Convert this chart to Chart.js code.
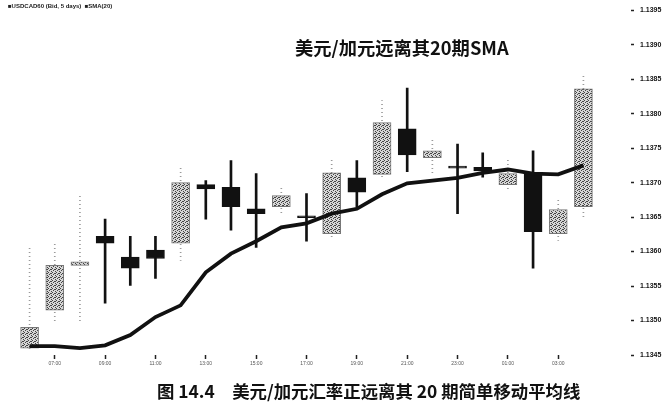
<!DOCTYPE html>
<html><head><meta charset="utf-8">
<script src="https://cdn.jsdelivr.net/npm/chart.js@4.4.1/dist/chart.umd.min.js"></script>
<style>
html,body{margin:0;padding:0;background:#fff;}
#wrap{position:relative;width:672px;height:408px;overflow:hidden;background:#fff;}
#c{position:absolute;left:0;top:0;}
.t{position:absolute;white-space:nowrap;font-family:"Noto Sans CJK SC","Noto Sans",sans-serif;color:#111;}
#title{left:295px;top:34px;font-size:18.3px;font-weight:700;}
#legend{left:8px;top:3px;font-size:6px;font-family:"Liberation Sans",Arial,sans-serif;color:#222;font-weight:700;}
#caption{left:157px;top:378px;font-size:17.4px;font-weight:700;}
</style></head><body>
<div id="wrap"><canvas id="c" width="672" height="408"></canvas>
<div class="t" id="legend">■USDCAD60 (Bid, 5 days) &nbsp;■SMA(20)</div>
<div class="t" id="title">美元/加元远离其20期SMA</div>
<div class="t" id="caption">图 14.4　美元/加元汇率正远离其 20 期简单移动平均线</div>
</div>
<script>
const timeLabels = ["06:00","07:00","08:00","09:00","10:00","11:00","12:00","13:00","14:00","15:00","16:00","17:00","18:00","19:00","20:00","21:00","22:00","23:00","00:00","01:00","02:00","03:00","04:00"];
const openVals  = [1.13460,1.13515,1.13580,1.13622,1.13592,1.13602,1.13612,1.13697,1.13693,1.13662,1.13665,1.13651,1.13626,1.13707,1.13712,1.13778,1.13736,1.13723,1.13722,1.13697,1.13713,1.13626,1.13665];
const highVals  = [1.13606,1.13613,1.13681,1.13647,1.13622,1.13622,1.13725,1.13703,1.13732,1.13713,1.13693,1.13684,1.13735,1.13732,1.13819,1.13837,1.13764,1.13756,1.13743,1.13735,1.13746,1.13678,1.13855];
const lowVals   = [1.13455,1.13498,1.13496,1.13525,1.13551,1.13561,1.13587,1.13647,1.13631,1.13606,1.13652,1.13615,1.13620,1.13664,1.13707,1.13716,1.13714,1.13655,1.13708,1.13690,1.13576,1.13616,1.13648];
const closeVals = [1.13490,1.13580,1.13585,1.13612,1.13576,1.13590,1.13700,1.13691,1.13665,1.13655,1.13681,1.13649,1.13714,1.13686,1.13787,1.13740,1.13746,1.13721,1.13717,1.13713,1.13629,1.13661,1.13836];
const smaVals   = [1.13463,1.13463,1.13460,1.13464,1.13479,1.13505,1.13522,1.13570,1.13597,1.13615,1.13635,1.13641,1.13655,1.13662,1.13683,1.13699,1.13703,1.13707,1.13714,1.13719,1.13713,1.13712,1.13725];
const yTicks    = [1.1345,1.1350,1.1355,1.1360,1.1365,1.1370,1.1375,1.1380,1.1385,1.1390,1.1395];

function speckle(){
  const p=document.createElement('canvas'); p.width=4; p.height=4;
  const g=p.getContext('2d'); g.fillStyle='#d6d6d6'; g.fillRect(0,0,4,4);
  g.fillStyle='#444';
  [[0,0],[2,1],[1,2],[3,3],[3,1]].forEach(([x,y])=>g.fillRect(x,y,1,1));
  return g.createPattern(p,'repeat');
}
function dots(){
  const p=document.createElement('canvas'); p.width=2; p.height=4;
  const g=p.getContext('2d'); g.fillStyle='#9a9a9a'; g.fillRect(0,0,2,1);
  return g.createPattern(p,'repeat');
}
const cx=document.getElementById('c').getContext('2d');
const hatch=speckle(), dotted=dots();
const up = openVals.map((o,i)=>closeVals[i]>=o);

new Chart(cx,{
  type:'bar',
  data:{
    labels: timeLabels,
    datasets:[
      {type:'line',data:smaVals,borderColor:'#111',borderWidth:3.8,pointRadius:0,tension:0,order:0},
      {data:openVals.map((o,i)=>[o,closeVals[i]]),
       backgroundColor:up.map(u=>u?hatch:'#111'),
       borderColor:up.map(u=>u?'#777':'#111'),
       borderWidth:1,borderSkipped:false,barThickness:18,minBarLength:2,grouped:false,order:1},
      {data:lowVals.map((l,i)=>up[i]?null:[l,highVals[i]]),backgroundColor:'#111',barThickness:2,grouped:false,order:2},
      {data:lowVals.map((l,i)=>up[i]?[l,highVals[i]]:null),backgroundColor:dotted,barThickness:1,grouped:false,order:3}
    ]
  },
  options:{
    responsive:false,animation:false,
    layout:{padding:{top:9,left:17,right:0,bottom:0}},
    plugins:{legend:{display:false},tooltip:{enabled:false}},
    scales:{
      x:{type:'category',offset:true,
         grid:{display:true,drawOnChartArea:false,drawTicks:true,tickLength:4,tickColor:'#222',tickWidth:1.5,offset:false},
         border:{display:false},
         ticks:{autoSkip:false,maxRotation:0,padding:2,color:'#555',font:{size:5,family:'Liberation Sans'},
           callback:function(v,i){return i%2===1?this.getLabelForValue(v):null;}},
         afterFit:s=>{s.height=53;}},
      y:{position:'right',min:1.1345,max:1.1395,
         afterBuildTicks:s=>{s.ticks=yTicks.map(v=>({value:v}));},
         grid:{display:true,drawOnChartArea:false,drawTicks:true,tickLength:38,tickBorderDash:[0,35,3,60],tickColor:'#222',tickWidth:1.5},
         border:{display:false},
         ticks:{padding:6,color:'#111',font:{size:7,weight:'bold',family:'Liberation Sans'},callback:v=>Number(v).toFixed(4)},
         afterFit:s=>{s.width=76;}}
    }
  }
});
</script>
</body></html>
